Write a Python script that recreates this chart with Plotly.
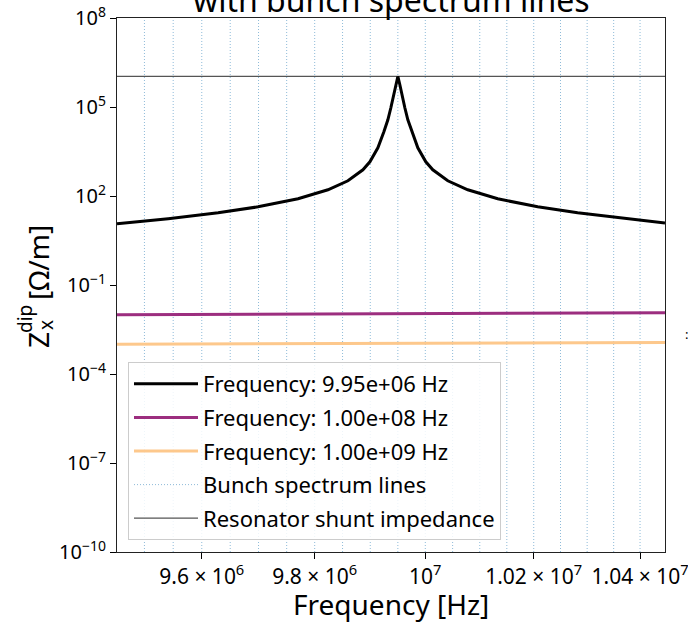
import plotly.graph_objects as go
import numpy as np

# ---------------- data ----------------
freq_black = [9.4525e6, 9.54123e6, 9.62867e6, 9.69914e6, 9.77025e6, 9.82376e6,
              9.85968e6, 9.88673e6, 9.89933e6, 9.91377e6, 9.92464e6, 9.93188e6,
              9.93730e6, 9.94274e6, 9.94637e6, 9.95e6, 9.95363e6, 9.95727e6,
              9.96272e6, 9.96816e6, 9.97544e6, 9.98636e6, 10.00094e6, 10.01373e6,
              10.04116e6, 10.07787e6, 10.13317e6, 10.20739e6, 10.28208e6,
              10.37632e6, 10.4475e6]
z_black = [11.5, 17.0, 27.1, 43.2, 80.5, 162, 326, 766, 1420, 4230, 1.46e4, 3.72e4,
           9.44e4, 2.59e5, 5.62e5, 1.07e6, 5.62e5, 2.59e5, 9.44e4, 3.72e4, 1.46e4,
           4230, 1420, 766, 326, 162, 80.5, 43.2, 27.1, 17.0, 12.3]

freq_edges = [9.4525e6, 10.4475e6]
z_purple = [0.0100, 0.0116]
z_orange = [1.00e-3, 1.16e-3]

bunch_lines = [9.50e6, 9.55e6, 9.60e6, 9.65e6, 9.70e6, 9.75e6, 9.80e6, 9.85e6,
               9.90e6, 9.95e6, 10.00e6, 10.05e6, 10.10e6, 10.15e6, 10.20e6,
               10.25e6, 10.30e6, 10.35e6, 10.40e6]
shunt_impedance = 1.07e6

labels = ["Frequency: 9.95e+06 Hz", "Frequency: 1.00e+08 Hz",
          "Frequency: 1.00e+09 Hz", "Bunch spectrum lines",
          "Resonator shunt impedance"]

x_tickvals = [9.6e6, 9.8e6, 1.0e7, 1.02e7, 1.04e7]
x_ticktext = ["9.6 × 10<sup>6</sup>", "9.8 × 10<sup>6</sup>",
              "10<sup>7</sup>", "1.02 × 10<sup>7</sup>",
              "1.04 × 10<sup>7</sup>"]
y_tickvals = [1e8, 1e5, 1e2, 1e-1, 1e-4, 1e-7, 1e-10]
y_ticktext = ["10<sup>8</sup>", "10<sup>5</sup>", "10<sup>2</sup>",
              "10<sup>−1</sup>", "10<sup>−4</sup>", "10<sup>−7</sup>",
              "10<sup>−10</sup>"]
y_range = [1e-10, 1e8]

FONT = "Noto Sans"
W, H = 688, 623
ML, MR, MT, MB = 117, 23, 18, 71
PW, PH = W - ML - MR, H - MT - MB


def px(xp, yp):
    return (xp - ML) / PW, (H - MB - yp) / PH


fig = go.Figure()

bx, by = [], []
for f in bunch_lines:
    bx += [f, f, None]
    by += [y_range[0], y_range[1], None]
fig.add_trace(go.Scatter(x=bx, y=by, mode="lines", name=labels[3], legendrank=4,
                         line=dict(color="rgba(31,119,180,0.5)", width=1, dash="1px,2px"),
                         legendgroup="d"))
fig.add_trace(go.Scatter(x=freq_edges, y=[shunt_impedance] * 2, mode="lines",
                         name=labels[4], legendrank=5,
                         line=dict(color="#555555", width=1.3), legendgroup="e"))
fig.add_trace(go.Scatter(x=freq_black, y=z_black, mode="lines", name=labels[0],
                         legendrank=1, line=dict(color="black", width=3),
                         legendgroup="a"))
fig.add_trace(go.Scatter(x=freq_edges, y=z_purple, mode="lines", name=labels[1],
                         legendrank=2, line=dict(color="#9c2e7f", width=3),
                         legendgroup="b"))
fig.add_trace(go.Scatter(x=freq_edges, y=z_orange, mode="lines", name=labels[2],
                         legendrank=3, line=dict(color="#fdc88c", width=3),
                         legendgroup="c"))

annotations = []
tx, ty = px(391, 0)
annotations.append(dict(text="with bunch spectrum lines", x=tx, y=ty, xref="paper",
                        yref="paper", xanchor="center", yanchor="middle",
                        showarrow=False, font=dict(family=FONT, size=32, color="black")))
tx, ty = px(391, 604)
annotations.append(dict(text="Frequency [Hz]", x=tx, y=ty, xref="paper", yref="paper",
                        xanchor="center", yanchor="middle", showarrow=False,
                        font=dict(family=FONT, size=28, color="black")))
for txt, cx, cy, sz in [("Z", 38, 340, 28), ("dip", 25, 319, 19), ("x", 46, 325, 19),
                        ("[Ω/m]", 38, 263, 28)]:
    tx, ty = px(cx, cy)
    annotations.append(dict(text=txt, x=tx, y=ty, xref="paper", yref="paper",
                            xanchor="center", yanchor="middle", textangle=-90,
                            showarrow=False,
                            font=dict(family=FONT, size=sz, color="black")))
tx, ty = px(686, 334)
annotations.append(dict(text=":", x=tx, y=ty, xref="paper", yref="paper",
                        xanchor="center", yanchor="middle", showarrow=False,
                        font=dict(family=FONT, size=13, color="black")))

fig.update_layout(
    width=W, height=H, autosize=False,
    margin=dict(l=ML, r=MR, t=MT, b=MB, pad=0, autoexpand=False),
    paper_bgcolor="white", plot_bgcolor="white",
    font=dict(family=FONT, size=20, color="black"),
    showlegend=True,
    legend=dict(x=px(128, 0)[0], y=px(0, 540)[1], xanchor="left", yanchor="bottom",
                bgcolor="rgba(255,255,255,0.85)", bordercolor="#cccccc", borderwidth=1,
                font=dict(family=FONT, size=22, color="black"),
                traceorder="grouped", tracegroupgap=2, itemwidth=64),
    annotations=annotations,
)
fig.update_xaxes(type="log", automargin=False, ticklabeloverflow="allow",
                 range=[np.log10(min(freq_black)), np.log10(max(freq_black))],
                 tickvals=x_tickvals, ticktext=x_ticktext, ticks="outside", ticklen=6,
                 tickcolor="black", showline=True, linecolor="#222", linewidth=1,
                 mirror=True, showgrid=False, zeroline=False,
                 tickfont=dict(family=FONT, size=21, color="black"))
fig.update_yaxes(type="log", automargin=False, ticklabeloverflow="allow",
                 range=[np.log10(y_range[0]), np.log10(y_range[1])],
                 tickvals=y_tickvals, ticktext=y_ticktext, ticks="outside", ticklen=6,
                 tickcolor="black", showline=True, linecolor="#222", linewidth=1,
                 mirror=True, showgrid=False, zeroline=False,
                 tickfont=dict(family=FONT, size=20, color="black"))

fig.write_html("out.html")
